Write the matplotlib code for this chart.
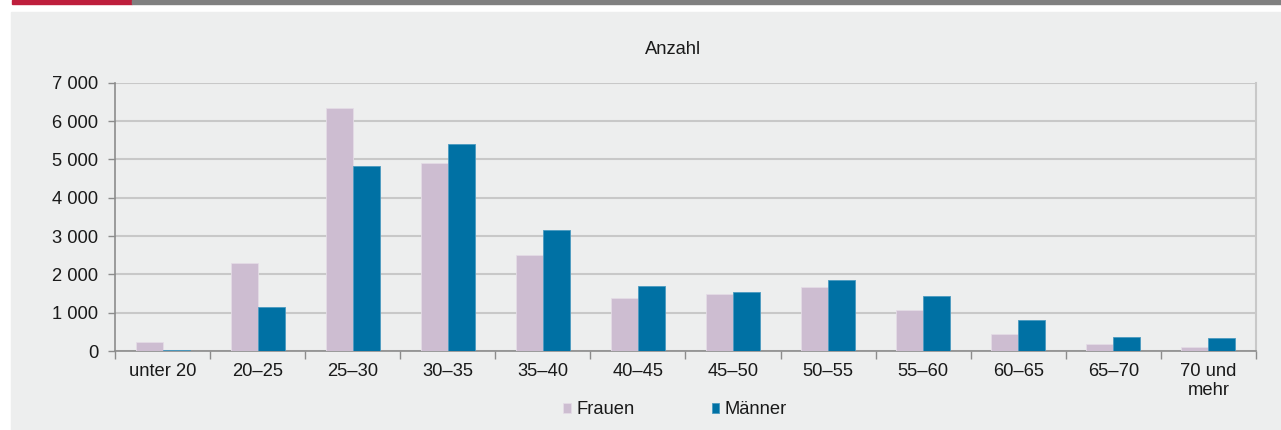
import numpy as np
import matplotlib
matplotlib.use('Agg')
import matplotlib.pyplot as plt
from matplotlib.patches import Rectangle
from matplotlib.ticker import FuncFormatter

plt.rcParams['font.family']=['Liberation Sans','DejaVu Sans']

# data
categories=['unter 20','20–25','25–30','30–35','35–40','40–45','45–50',
            '50–55','55–60','60–65','65–70','70 und\nmehr']
frauen=[230,2300,6340,4900,2500,1380,1475,1660,1070,435,182,104]
maenner=[25,1140,4830,5410,3150,1685,1535,1850,1425,807,372,330]

c_frauen='#CDBDD1'
c_maenner='#0071A4'
bg='#EDEEEE'
fs=13.2

W,H=1281,430
fig=plt.figure(figsize=(W/100,H/100),dpi=100)
fig.patch.set_facecolor('white')
# panel background and top rule
fig.add_artist(Rectangle((11/W,0),1-11/W,1-12/H,transform=fig.transFigure,color=bg,zorder=-10))
fig.add_artist(Rectangle((12/W,1-4/H),120/W,4/H,transform=fig.transFigure,color='#BE1E3C',zorder=-5))
fig.add_artist(Rectangle((132/W,1-4/H),1-132/W,4/H,transform=fig.transFigure,color='#808080',zorder=-5))

ax=fig.add_axes([115/W,1-351/H,(1256-115)/W,(351-82.7)/H])
ax.set_facecolor(bg)
x=np.arange(len(categories))
bw=0.284
ax.bar(x-bw/2,frauen,bw,color=c_frauen,edgecolor='#E4DCE6',lw=0.6,label='Frauen',zorder=3)
ax.bar(x+bw/2,maenner,bw,color=c_maenner,edgecolor='#4A9AC0',lw=0.6,label='Männer',zorder=3)

ax.set_xlim(-0.5,len(categories)-0.5)
ax.set_ylim(0,7000)
ax.set_yticks(np.arange(0,7001,1000))
ax.yaxis.set_major_formatter(FuncFormatter(lambda v,p: f'{int(v):,}'.replace(',',' ')))
ax.yaxis.grid(True,color='#C8C8C8',lw=1.5,zorder=0)
ax.set_xticks(np.arange(-0.5,len(categories),1.0))
ax.set_xticklabels([])
ax.set_xticks(x,minor=True)
ax.set_xticklabels(categories,minor=True,fontsize=fs,color='#1A1A1A',linespacing=1.15)
ax.tick_params(axis='x',which='major',length=6,color='#8C8C8C',width=1)
ax.tick_params(axis='x',which='minor',length=0,pad=9)
ax.tick_params(axis='y',length=5,color='#8C8C8C',width=1,labelsize=fs,labelcolor='#1A1A1A',pad=7)
for sp in ['left','bottom']:
  ax.spines[sp].set_color('#8C8C8C'); ax.spines[sp].set_linewidth(1.2)
ax.spines['right'].set_color('#C8C8C8'); ax.spines['right'].set_linewidth(1.5)
ax.spines['top'].set_visible(False)

fig.text(673/W,1-49/H,'Anzahl',ha='center',va='center',fontsize=fs,color='#1A1A1A')
leg=fig.legend(loc='center',bbox_to_anchor=(675/W,1-410/H),ncol=2,frameon=False,
               fontsize=fs,handlelength=0.42,handleheight=0.42,handletextpad=0.3,
               columnspacing=4.2,borderpad=0)
for t in leg.get_texts(): t.set_color('#1A1A1A')

fig.savefig('out.png',dpi=100,facecolor=fig.get_facecolor())
